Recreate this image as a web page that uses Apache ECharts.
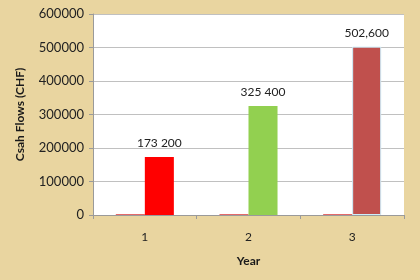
<!DOCTYPE html>
<html><head><meta charset="utf-8">
<script src="https://cdn.jsdelivr.net/npm/echarts@6/dist/echarts.min.js"></script>
<style>html,body{margin:0;padding:0;background:#e9d5a0;}#c{width:420px;height:280px;}</style>
</head><body><div id="c"></div>
<script>
var categories = ['1', '2', '3'];
var yearSeries = [1, 2, 3];
var cashFlows = [173200, 325400, 502600];
var valueLabels = ['173 200', '325 400', '502,600'];
var barColors = ['#ff0000', '#92d050', '#c0504d'];
var yTicks = [0, 100000, 200000, 300000, 400000, 500000, 600000];

var chart = echarts.init(document.getElementById('c'), null, {renderer: 'canvas'});
var font = 'Lato, "Open Sans", sans-serif';
chart.setOption({
  backgroundColor: '#e9d5a0',
  animation: false,
  grid: {left: 93, right: 16, top: 14, bottom: 65, show: true, backgroundColor: '#ffffff', borderWidth: 0},
  xAxis: {
    type: 'category', data: categories,
    name: 'Year', nameLocation: 'middle', nameGap: 40,
    nameTextStyle: {fontFamily: font, fontWeight: 'bold', fontSize: 12, color: '#1a1a1a'},
    axisLine: {lineStyle: {color: '#9a9a9a'}},
    axisTick: {show: true, length: 4, lineStyle: {color: '#9a9a9a'}},
    axisLabel: {fontFamily: font, fontSize: 12, color: '#222', margin: 16}
  },
  yAxis: {
    type: 'value', min: yTicks[0], max: yTicks[yTicks.length - 1], interval: 100000,
    name: 'Csah Flows (CHF)', nameLocation: 'middle', nameGap: 67,
    nameTextStyle: {fontFamily: font, fontWeight: 'bold', fontSize: 12, color: '#1a1a1a'},
    axisLine: {show: true, lineStyle: {color: '#9a9a9a'}},
    axisTick: {show: true, length: 4, lineStyle: {color: '#9a9a9a'}},
    axisLabel: {fontFamily: font, fontSize: 13, color: '#222', margin: 9,
      formatter: function (v) { return String(v); }},
    splitLine: {lineStyle: {color: '#c0c0c0'}}
  },
  series: [
    {
      type: 'bar', data: yearSeries, barGap: '0%', barCategoryGap: '44%',
      barMinHeight: 1,
      itemStyle: {color: '#e46a6a'}
    },
    {
      type: 'bar',
      data: cashFlows.map(function (v, i) {
        var d = {value: v, itemStyle: {color: barColors[i]}};
        if (i === 2) { d.itemStyle.borderColor = '#cdeefa'; d.itemStyle.borderWidth = 1; }
        return d;
      }),
      label: {
        show: true, position: 'top', distance: 8,
        fontFamily: font, fontSize: 12, color: '#222',
        formatter: function (p) { return valueLabels[p.dataIndex]; }
      }
    }
  ]
});
</script></body></html>
